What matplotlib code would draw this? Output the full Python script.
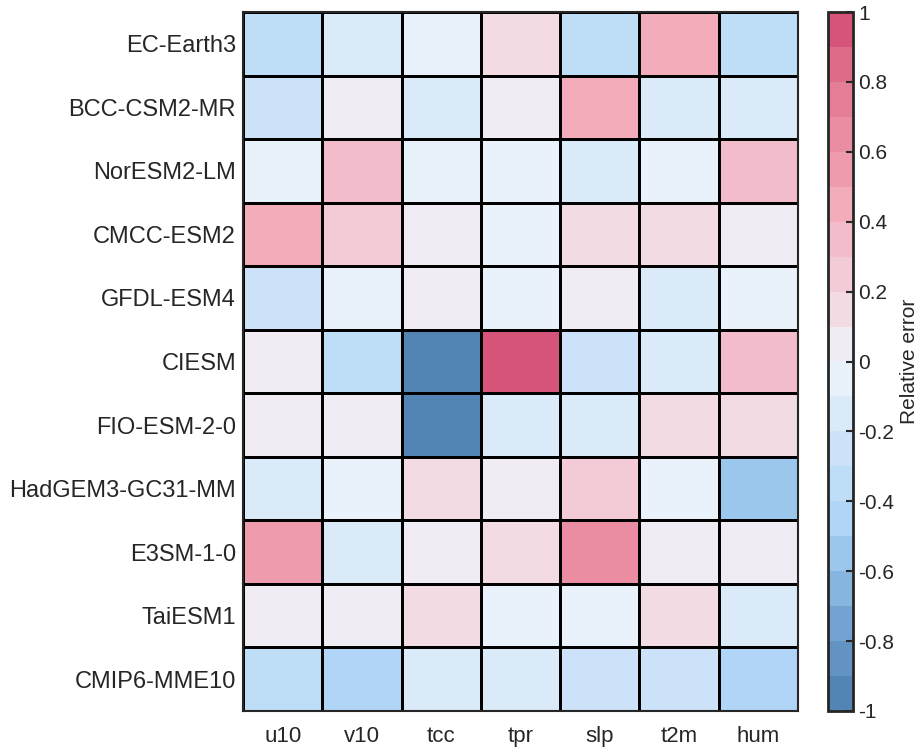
import numpy as np
import matplotlib
matplotlib.use("Agg")
import matplotlib.pyplot as plt
from matplotlib.colors import ListedColormap, BoundaryNorm

plt.rcParams['font.family'] = ['Liberation Sans', 'DejaVu Sans']

models = ["EC-Earth3", "BCC-CSM2-MR", "NorESM2-LM", "CMCC-ESM2", "GFDL-ESM4",
          "CIESM", "FIO-ESM-2-0", "HadGEM3-GC31-MM", "E3SM-1-0", "TaiESM1",
          "CMIP6-MME10"]
variables = ["u10", "v10", "tcc", "tpr", "slp", "t2m", "hum"]

u10 = [-0.35, -0.25, -0.05, 0.45, -0.25, 0.05, 0.05, -0.15, 0.55, 0.05, -0.35]
v10 = [-0.15, 0.05, 0.35, 0.25, -0.05, -0.35, 0.05, -0.05, -0.15, 0.05, -0.45]
tcc = [-0.05, -0.15, -0.05, 0.05, 0.05, -0.95, -0.95, 0.15, 0.05, 0.15, -0.15]
tpr = [0.15, 0.05, -0.05, -0.05, -0.05, 0.95, -0.15, 0.05, 0.15, -0.05, -0.15]
slp = [-0.35, 0.45, -0.15, 0.15, 0.05, -0.25, -0.15, 0.25, 0.65, -0.05, -0.25]
t2m = [0.45, -0.15, -0.05, 0.15, -0.15, -0.15, 0.15, -0.05, 0.05, 0.15, -0.25]
hum = [-0.35, -0.15, 0.35, 0.05, -0.05, 0.35, 0.15, -0.55, 0.05, -0.15, -0.45]

cbar_ticks = [-1, -0.8, -0.6, -0.4, -0.2, 0, 0.2, 0.4, 0.6, 0.8, 1]
cbar_ticklabels = ["-1", "-0.8", "-0.6", "-0.4", "-0.2", "0", "0.2", "0.4", "0.6", "0.8", "1"]

colors = ["#5284b4", "#6393c3", "#73a3d1", "#86b5e0", "#9bc7ec",
          "#b0d5f7", "#bedef8", "#cce2f8", "#dbeaf9", "#e9f1fa",
          "#f1ecf3", "#f2dbe3", "#f2cbd6", "#f2bcca", "#f2acba",
          "#ee9cad", "#ea8da2", "#e47e96", "#de6c89", "#d6537a"]
cmap = ListedColormap(colors)
bounds = np.linspace(-1, 1, 21)
norm = BoundaryNorm(bounds, cmap.N)

data = np.array([u10, v10, tcc, tpr, slp, t2m, hum]).T

fig = plt.figure(figsize=(9.24, 7.49), dpi=100)
ax = fig.add_axes([243/924, 1-711/749, (798-243)/924, (711-12)/749])
mesh = ax.pcolormesh(data, cmap=cmap, norm=norm, edgecolors='black', linewidth=2)
ax.set_xlim(0, len(variables))
ax.set_ylim(len(models), 0)
ax.set_xticks(np.arange(len(variables)) + 0.5)
ax.set_xticklabels(variables, fontsize=16, color='#262626')
ax.set_yticks(np.arange(len(models)) + 0.5)
ax.set_yticklabels(models, fontsize=17, color='#262626')
ax.tick_params(axis='both', length=0)
ax.tick_params(axis='x', pad=11)
ax.tick_params(axis='y', pad=5)
for s in ax.spines.values():
    s.set_linewidth(1.5)
    s.set_color('#262626')

cax = fig.add_axes([828/924, 1-711/749, 25/924, (711-12)/749])
cb = fig.colorbar(mesh, cax=cax, ticks=cbar_ticks)
cb.ax.minorticks_off()
cb.ax.set_yticklabels(cbar_ticklabels, fontsize=15, color='#262626')
cb.ax.tick_params(direction='in', length=5, width=1.5, color='#262626', pad=4)
cb.outline.set_linewidth(2)
cb.outline.set_edgecolor('#262626')
cb.set_label("Relative error", fontsize=15, color='#262626', labelpad=4)

fig.savefig("out.png", dpi=100)
